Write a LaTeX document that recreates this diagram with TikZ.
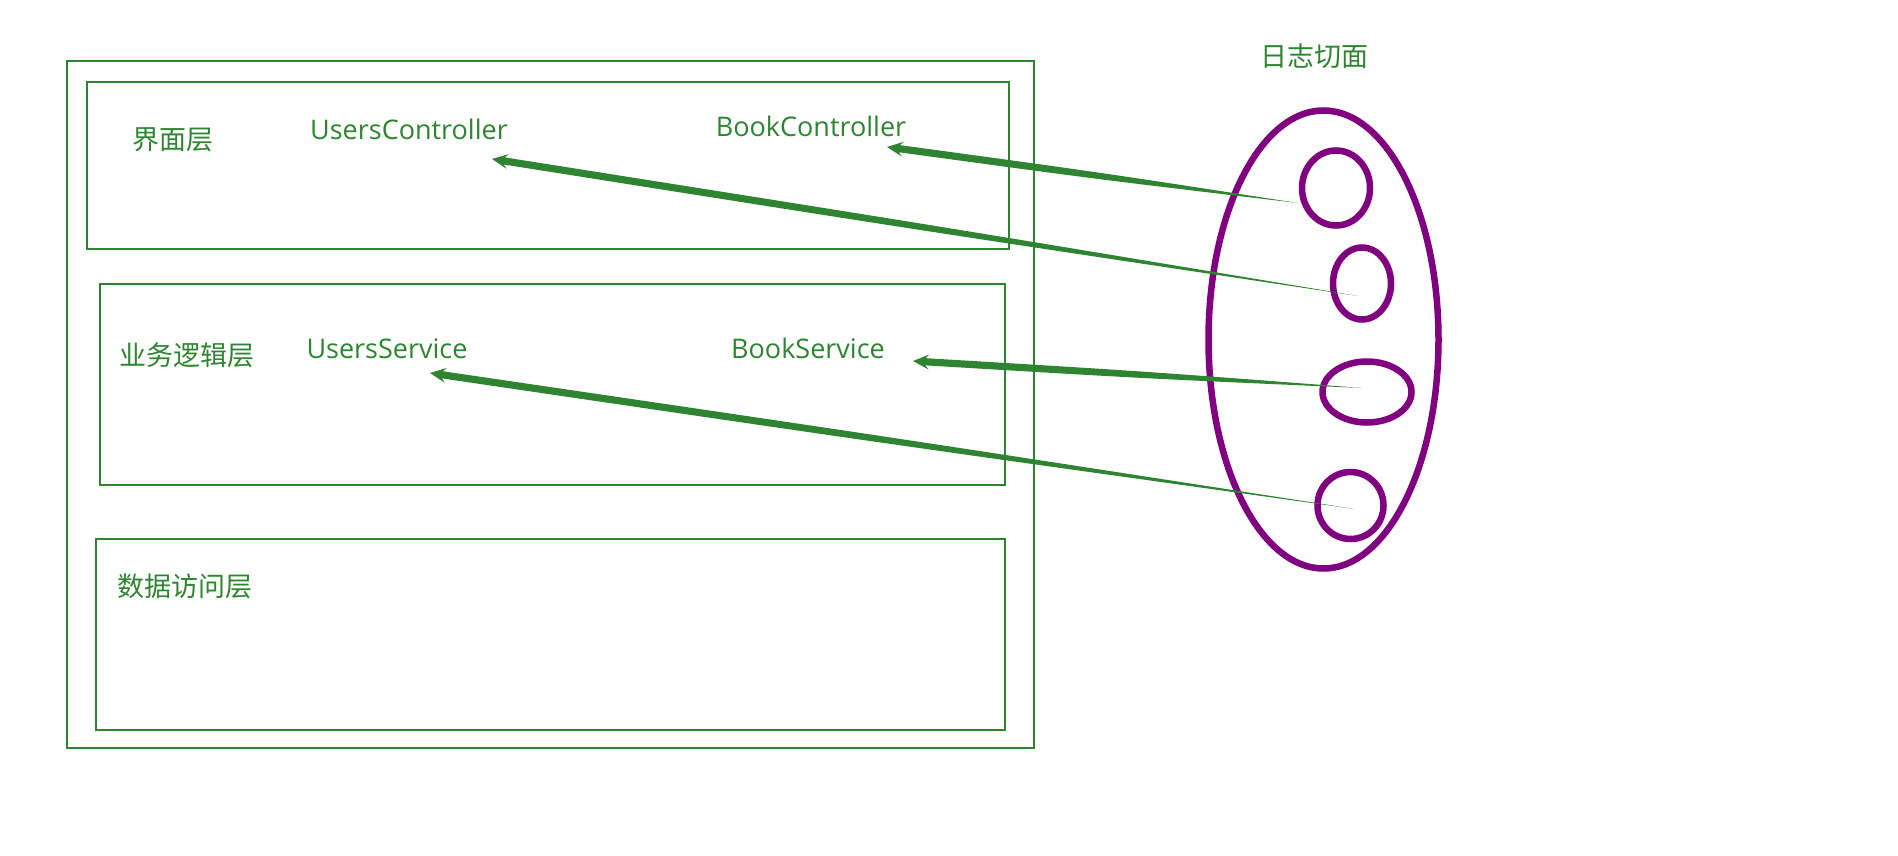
\documentclass[tikz,border=0pt]{standalone}
\usepackage{fontspec}
\setmainfont{Open Sans}
\newfontfamily\cjk{Noto Sans CJK SC}
\usetikzlibrary{
    shapes.geometric,
    calc
}
\definecolor{layergreen}{RGB}{46,132,48}
\definecolor{aspectpurple}{RGB}{128,0,128}
\tikzset {
    layer/.style = {draw = layergreen, line width = 2.6pt},
    label text/.style = {text = layergreen, inner sep = 0pt, font = \fontsize{27}{32}\selectfont},
    cjk text/.style = {label text, font = \cjk\fontsize{27}{32}\selectfont},
    aspect/.style = {ellipse, draw = aspectpurple, line width = 6.5pt, inner sep = 0pt},
}
% tapered arrow: thin at #1, head at #2
\newcommand{\taperarrow}[2]{%
    \path ($ (#2)!16pt!(#1) $) coordinate (hb);
    \path ($ (#2)!12.5pt!(#1) $) coordinate (hn);
    \path ($ (hn)!0.5!(#1) $) coordinate (hm);
    \fill [layergreen] (#2)
        -- ($ (hb)!7.5pt!90:(#1) $) -- ($ (hn)!3.6pt!90:(#1) $)
        .. controls ($ (hm)!3.6pt!90:(#1) $) .. (#1)
        .. controls ($ (hm)!3.6pt!-90:(#1) $) .. ($ (hn)!3.6pt!-90:(#1) $)
        -- ($ (hb)!7.5pt!-90:(#1) $)
        -- cycle;
}

\begin{document}
\begin{tikzpicture}[x = 1pt, y = -1pt]
    \useasboundingbox (0, 0) rectangle (1898, 856);
    % layers
    \draw [layer] (67, 61) rectangle (1034, 748);
    \draw [layer] (87, 82) rectangle (1009, 249);
    \draw [layer] (100, 284) rectangle (1005, 485);
    \draw [layer] (96, 539) rectangle (1005, 730);
    \node (ui) [cjk text] at (173, 140) {界面层};
    \node (biz) [cjk text] at (187, 355) {业务逻辑层};
    \node (dao) [cjk text] at (185, 586) {数据访问层};
    \node (usersctrl) [label text] at (409, 129) {UsersController};
    \node (bookctrl) [label text] at (811, 126) {BookController};
    \node (userssvc) [label text] at (387, 349) {UsersService};
    \node (booksvc) [label text] at (808, 348) {BookService};
    % aspect
    \node (logtitle) [cjk text] at (1314, 56) {日志切面};
    \node (log) [aspect, minimum width = 230pt, minimum height = 458pt] at (1323.5, 339.5) {};
    \node (jp1) [aspect, minimum width = 68pt, minimum height = 75pt] at (1336, 188) {};
    \node (jp2) [aspect, minimum width = 58pt, minimum height = 72pt] at (1362, 283.5) {};
    \node (jp3) [aspect, minimum width = 89pt, minimum height = 61pt] at (1367, 392) {};
    \node (jp4) [aspect, minimum width = 66pt, minimum height = 67pt] at (1350.5, 505.5) {};
    \coordinate (s1) at (1298, 203);
    \coordinate (s2) at (1358, 296);
    \coordinate (s3) at (1362, 388);
    \coordinate (s4) at (1355, 509);
    \coordinate (t1) at ($ (bookctrl) + (76, 21) $);
    \coordinate (t2) at ($ (usersctrl) + (83, 30) $);
    \coordinate (t3) at ($ (booksvc) + (105, 13) $);
    \coordinate (t4) at ($ (userssvc) + (43, 24) $);
    \taperarrow{s1}{t1}
    \taperarrow{s2}{t2}
    \taperarrow{s3}{t3}
    \taperarrow{s4}{t4}
\end{tikzpicture}
\end{document}
